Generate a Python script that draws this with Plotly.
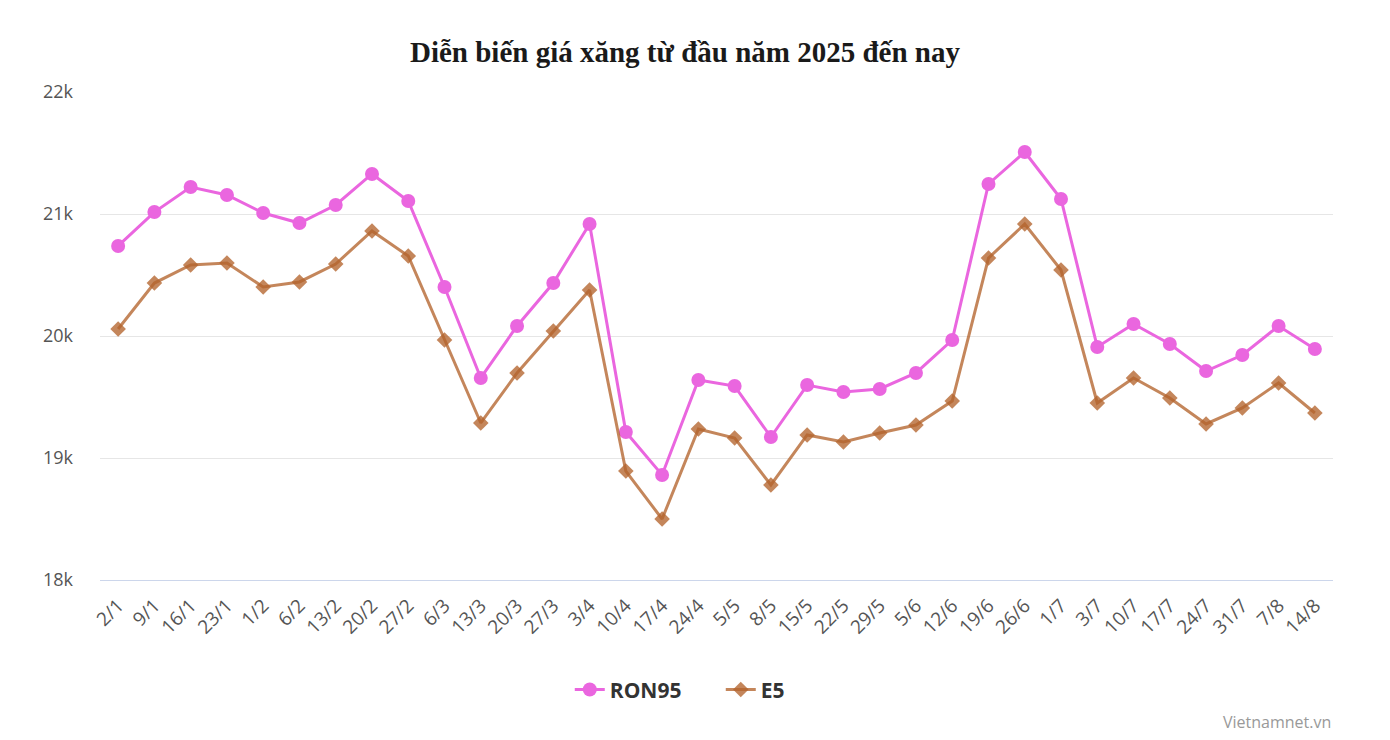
import plotly.graph_objects as go

dates = ["2/1", "9/1", "16/1", "23/1", "1/2", "6/2", "13/2", "20/2", "27/2", "6/3",
         "13/3", "20/3", "27/3", "3/4", "10/4", "17/4", "24/4", "5/5", "8/5", "15/5",
         "22/5", "29/5", "5/6", "12/6", "19/6", "26/6", "1/7", "3/7", "10/7", "17/7",
         "24/7", "31/7", "7/8", "14/8"]

ron95 = [20738, 21016, 21221, 21156, 21008, 20926, 21074, 21328, 21107, 20402,
         19656, 20082, 20434, 20918, 19213, 18861, 19639, 19590, 19172, 19598,
         19541, 19566, 19697, 19967, 21246, 21508, 21123, 19910, 20098, 19934,
         19713, 19844, 20082, 19893]

e5 = [20057, 20434, 20582, 20598, 20402, 20443, 20590, 20861, 20656, 19967,
      19287, 19697, 20041, 20377, 18893, 18500, 19238, 19164, 18779, 19189,
      19131, 19205, 19270, 19467, 20639, 20918, 20541, 19451, 19656, 19492,
      19279, 19410, 19615, 19369]

y_ticks = [18000, 19000, 20000, 21000, 22000]
y_labels = ["18k", "19k", "20k", "21k", "22k"]

fig = go.Figure()
fig.add_trace(go.Scatter(
    x=dates, y=ron95, name="RON95", mode="lines+markers",
    line=dict(color="#ea66df", width=3),
    marker=dict(symbol="circle", size=14, color="#ea66df"),
))
fig.add_trace(go.Scatter(
    x=dates, y=e5, name="E5", mode="lines+markers",
    line=dict(color="rgba(180,100,45,0.78)", width=3),
    marker=dict(symbol="diamond", size=12, color="rgba(180,100,45,0.78)"),
))

fig.update_layout(
    width=1374, height=724,
    paper_bgcolor="white", plot_bgcolor="white",
    margin=dict(l=92, r=49, t=84, b=152),
    title=dict(text="<b>Diễn biến giá xăng từ đầu năm 2025 đến nay</b>",
               x=0.4927, xanchor="center", y=0.939, yanchor="middle",
               font=dict(family="Liberation Serif", size=29, color="#1a1a1a")),
    showlegend=True,
    legend=dict(orientation="h", x=0.381, xanchor="left", y=-0.225, yanchor="middle",
                font=dict(family="Open Sans", size=21, color="#333333", weight="bold"),
                entrywidth=106, entrywidthmode="pixels", tracegroupgap=0),
    font=dict(family="Open Sans"),
)
fig.update_xaxes(
    type="category", range=[-0.5, len(dates) - 0.5],
    tickangle=-45, tickfont=dict(size=19, color="#555555", family="Open Sans"),
    showgrid=False, showline=True, linecolor="#ccd6eb", linewidth=1,
    ticks="", zeroline=False, ticklabelstandoff=6,
)
fig.update_yaxes(
    range=[18000, 22000], tickvals=y_ticks, ticktext=y_labels,
    tickfont=dict(size=18, color="#555555", family="Open Sans"),
    showgrid=True, gridcolor="#e6e6e6", gridwidth=1, zeroline=False,
    showline=False, ticks="", ticklabelstandoff=26,
)
fig.add_annotation(
    text="Vietnamnet.vn", xref="paper", yref="paper", x=1.0, y=-0.291,
    xanchor="right", yanchor="middle", showarrow=False,
    font=dict(family="Open Sans", size=16, color="#999999"),
)
fig.write_html("out.html")
